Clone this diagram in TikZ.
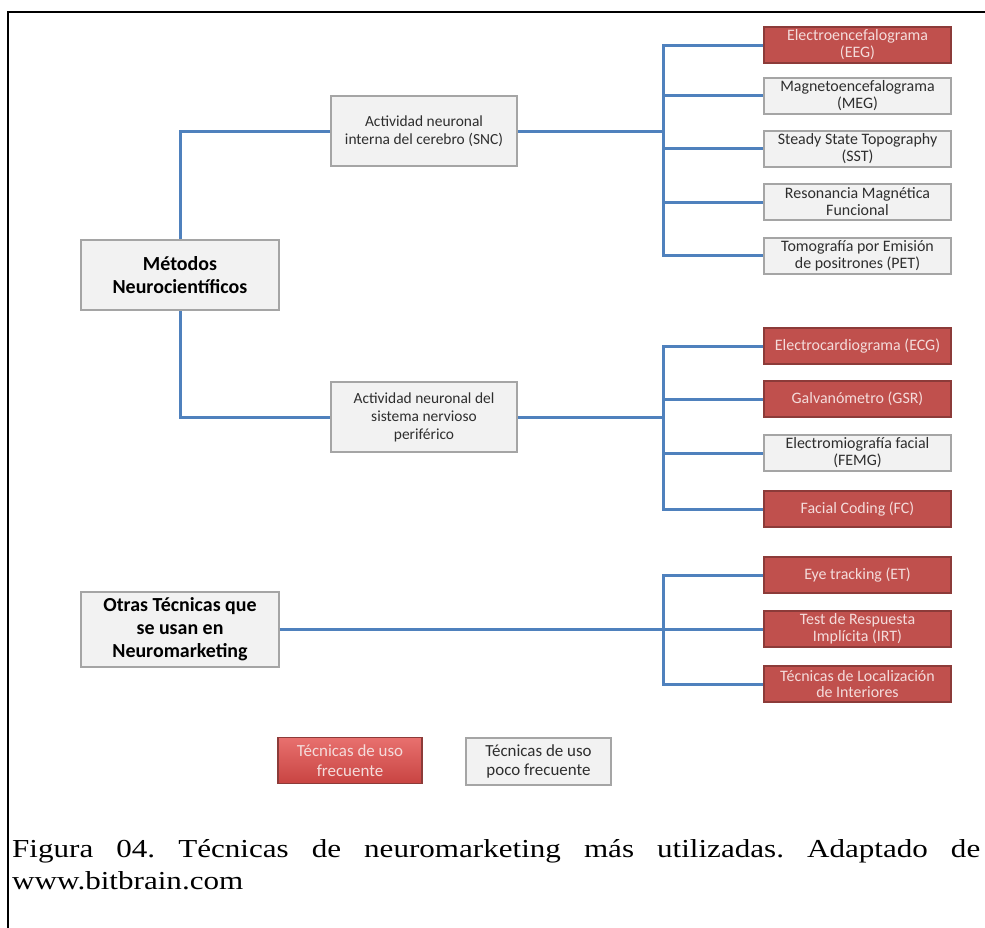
\documentclass[tikz,border=0pt]{standalone}
\usepackage{fontspec}
\setmainfont{Carlito}
\newfontfamily\capfont[FakeStretch=1.2]{Liberation Serif}
\usetikzlibrary{positioning}

\definecolor{linkblue}{HTML}{4F81BD}
\definecolor{boxred}{HTML}{C0504D}
\definecolor{redline}{HTML}{8C3B39}
\definecolor{boxgray}{HTML}{F2F2F2}
\definecolor{grayline}{HTML}{A5A5A5}
\definecolor{pinktext}{HTML}{F4DCDB}
\definecolor{darktext}{HTML}{2E2E2E}

\begin{document}
\begin{tikzpicture}[
  x=1bp, y=-1bp,
  every node/.style={font=\fontsize{16}{17}\selectfont, inner sep=1bp, align=center},
  box/.style={draw, line width=2bp, minimum width=187bp, minimum height=36bp},
  gbox/.style={box, fill=boxgray, draw=grayline, text=darktext},
  rbox/.style={box, fill=boxred, draw=redline, line width=1.5bp, text=pinktext},
  midbox/.style={gbox, minimum width=186bp, minimum height=70bp, font=\fontsize{15.5}{18}\selectfont},
  headbox/.style={gbox, minimum width=197bp, minimum height=70bp, text=black, font=\fontsize{20}{23}\selectfont\bfseries},
  legbox/.style={minimum width=144bp, minimum height=46bp, font=\fontsize{17}{20}\selectfont},
  link/.style={draw=linkblue, line width=3bp}
]
\useasboundingbox (0,0) rectangle (985,928);

% page frame (cropped)
\draw[line width=1.5bp] (8,928) -- (8,12) -- (985,12);

% Left column: the two groups
\node[headbox] (met) at (180,275) {Métodos\\Neurocientíficos};
\node[headbox, minimum height=75bp] (otr) at (180,629.5) {Otras Técnicas que\\se usan en\\Neuromarketing};

% Middle column
\node[midbox] (snc) at (424,131) {Actividad neuronal\\interna del cerebro (SNC)};
\node[midbox] (per) at (424,417) {Actividad neuronal del\\sistema nervioso\\periférico};

% Right column: SNC techniques
\node[rbox] (eeg) at (857.5,45)    {Electroencefalograma\\(EEG)};
\node[gbox] (meg) at (857.5,95.5)  {Magnetoencefalograma\\(MEG)};
\node[gbox] (sst) at (857.5,148.5) {Steady State Topography\\(SST)};
\node[gbox] (rmf) at (857.5,202)   {Resonancia Magnética\\Funcional};
\node[gbox] (pet) at (857.5,255.5) {Tomografía por Emisión\\de positrones (PET)};

% Right column: peripheral techniques
\node[rbox] (ecg)  at (857.5,346) {Electrocardiograma (ECG)};
\node[rbox] (gsr)  at (857.5,399) {Galvanómetro (GSR)};
\node[gbox] (femg) at (857.5,453) {Electromiografía facial\\(FEMG)};
\node[rbox] (fc)   at (857.5,509) {Facial Coding (FC)};

% Right column: other techniques
\node[rbox] (et)  at (857.5,575) {Eye tracking (ET)};
\node[rbox] (irt) at (857.5,629) {Test de Respuesta\\Implícita (IRT)};
\node[rbox] (loc) at (857.5,684) {Técnicas de Localización\\de Interiores};

% Legend
\node[box, legbox, draw=redline, line width=1.5bp, text=pinktext,
  top color={rgb,255:red,232;green,112;blue,110}, bottom color={rgb,255:red,200;green,68;blue,66}]
  (lgred) at (350,760.5) {Técnicas de uso\\frecuente};
\node[gbox, legbox, minimum width=145bp, minimum height=47bp] (lggray) at (538.5,761.5) {Técnicas de uso\\poco frecuente};

% Junctions of the brackets
\coordinate (j1) at (663,131);
\coordinate (j2) at (663,417);
\coordinate (j3) at (663,629.5);

% Métodos -> activity boxes
\draw[link] (snc.west) -| (met.north);
\draw[link] (met.south) |- (per.west);

% Brackets
\draw[link] (snc.east) -- (j1);
\foreach \n in {eeg,meg,sst,rmf,pet} \draw[link] (j1) |- (\n.west);
\draw[link] (per.east) -- (j2);
\foreach \n in {ecg,gsr,femg,fc} \draw[link] (j2) |- (\n.west);
\draw[link] (otr.east) -- (j3);
\foreach \n in {et,irt,loc} \draw[link] (j3) |- (\n.west);

% Caption
\node[anchor=base west, inner sep=0, text=black, font=\capfont\fontsize{26}{30}\selectfont\frenchspacing]
  (cap1) at (12,857) {\makebox[968bp][s]{Figura 04. Técnicas de neuromarketing más utilizadas. Adaptado de}};
\node[anchor=base west, inner sep=0, text=black, font=\capfont\fontsize{26}{30}\selectfont]
  (cap2) at (12,889) {www.bitbrain.com};

\end{tikzpicture}
\end{document}
